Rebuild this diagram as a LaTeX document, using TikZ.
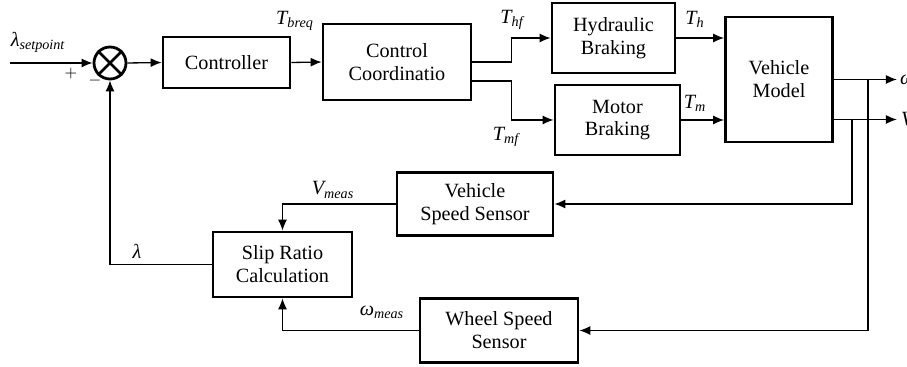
\documentclass[tikz,border=0pt]{standalone}
\usepackage{fontspec}
\setmainfont{Liberation Serif}
\newfontfamily\blkfont{Liberation Serif}
\usetikzlibrary{arrows.meta}
\tikzset{blk/.style={draw, line width=1.6pt, align=center, inner sep=0pt,
  font=\blkfont\fontsize{11.5}{13}\selectfont},
  sig/.style={line width=0.75pt, -{Latex[length=2.2mm,width=1.8mm]}},
  lbl/.style={font=\blkfont\fontsize{11.5}{13}\selectfont\itshape, inner sep=0pt}}
\newcommand{\sg}[2]{#1\textsubscript{#2}}

\begin{document}
\begin{tikzpicture}[x=0.02cm, y=-0.02cm]
\useasboundingbox (0,0) rectangle (907,367);
% summing junction
\node[draw, circle, line width=1.6pt, minimum size=0.64cm, inner sep=0pt] (sum) at (110,63) {};
\draw[line width=1.6pt] (sum.north west) -- (sum.south east) (sum.north east) -- (sum.south west);
\coordinate (in) at (10,63);
% forward path blocks
\node[blk, minimum width=2.54cm, minimum height=1.02cm] (ctrl) at (226.5,62.5) {Controller};
\node[blk, minimum width=2.96cm, minimum height=1.52cm] (coord) at (397,62) {Control\\Coordinatio};
\node[blk, minimum width=2.46cm, minimum height=1.4cm] (hyd) at (613.5,38) {Hydraulic\\Braking};
\node[blk, minimum width=2.5cm, minimum height=1.4cm] (mot) at (617.5,120) {Motor\\Braking};
\node[blk, minimum width=2.14cm, minimum height=2.5cm] (veh) at (779,79.5) {Vehicle\\Model};
% feedback blocks
\node[blk, minimum width=3.12cm, minimum height=1.26cm] (vss) at (475,204) {Vehicle\\Speed Sensor};
\node[blk, minimum width=2.78cm, minimum height=1.3cm] (slip) at (282.5,264.5) {Slip Ratio\\Calculation};
\node[blk, minimum width=3.16cm, minimum height=1.28cm] (wss) at (499,330.5) {Wheel Speed\\Sensor};
% forward connectors
\draw[sig] (in) -- (sum.west);
\draw[sig] (sum.east) -- (ctrl.west);
\draw[sig] (ctrl.east) -- (coord.west);
\draw[sig] (coord.east) -- ++(39,0) |- (hyd.west);
\draw[sig] ([yshift=-0.38cm]coord.east) -- ++(39,0) |- (mot.west);
\draw[sig] (hyd.east) -- (hyd.east -| veh.west);
\draw[sig] (mot.east) -- (mot.east -| veh.west);
\draw[sig] (veh.east) -- ++(63,0) node[lbl, right=1.5pt] {ω};
\draw[sig] ([yshift=-0.8cm]veh.east) -- ++(63,0) node[lbl, right=2pt] {V};
% feedback connectors
\coordinate (wtap) at (868,79.5);
\coordinate (vtap) at (852,119.5);
\draw[sig] (wtap) |- (wss.east);
\draw[sig] (vtap) |- (vss.east);
\draw[sig] (vss.west) -| (slip.north);
\draw[sig] (wss.west) -| (slip.south);
\draw[sig] (slip.west) -| (sum.south);
% signal labels
\node[lbl] (lsp) at (38,42) {\sg{λ}{setpoint}};
\node[font=\small] (plus) at (71,74) {$+$};
\node[font=\small] (minus) at (95,81) {$-$};
\node[lbl] (ltb) at (295,21) {\sg{T}{breq}};
\node[lbl] (lthf) at (512,20) {\sg{T}{hf}};
\node[lbl] (ltmf) at (506,137) {\sg{T}{mf}};
\node[lbl] (lth) at (695,19) {\sg{T}{h}};
\node[lbl] (ltm) at (695,103) {\sg{T}{m}};
\node[lbl] (lvm) at (333,190) {\sg{V}{meas}};
\node[lbl] (llam) at (137,251) {λ};
\node[lbl] (lwm) at (382,312) {\sg{ω}{meas}};
\end{tikzpicture}
\end{document}
